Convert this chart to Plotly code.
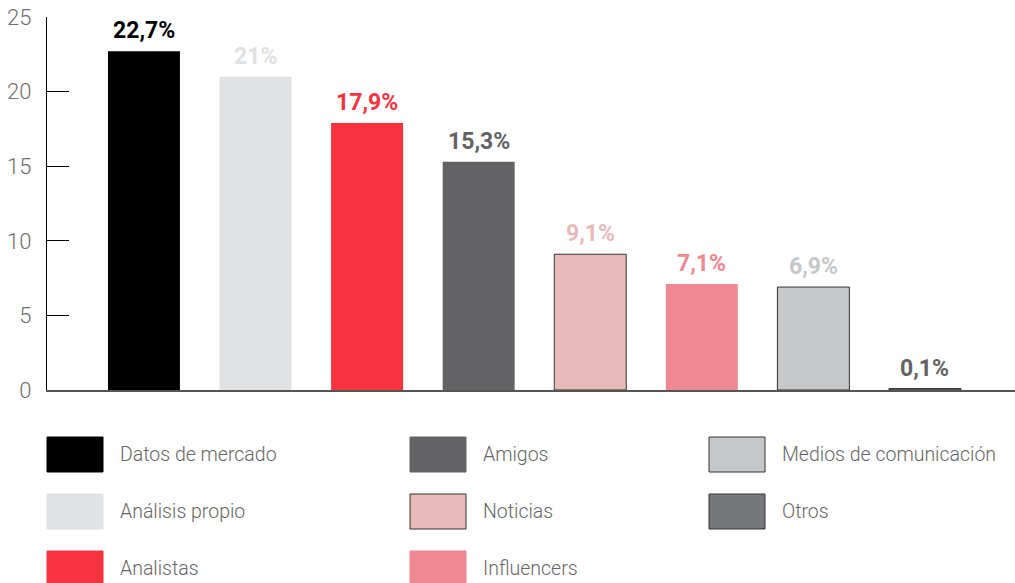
import plotly.graph_objects as go

categories = ["Datos de mercado", "Análisis propio", "Analistas", "Amigos",
              "Noticias", "Influencers", "Medios de comunicación", "Otros"]
values = [22.7, 21, 17.9, 15.3, 9.1, 7.1, 6.9, 0.1]
value_labels = ["22,7%", "21%", "17,9%", "15,3%", "9,1%", "7,1%", "6,9%", "0,1%"]
bar_colors = ["#000000", "#e0e1e3", "#f8323f", "#636365",
              "#e8baba", "#f08891", "#c6c7c9", "#77787b"]
label_colors = ["#000000", "#e0e1e3", "#f8323f", "#636365",
                "#e8baba", "#f08891", "#c6c7c9", "#636363"]
outlined = [False, False, False, False, True, False, True, True]
y_ticks = [0, 5, 10, 15, 20, 25]

W, H = 1015, 583
# plot area in pixels
L, R, T, B = 47, 1015, 17, 390

light_font = "Roboto, sans-serif"
bold_font = "Roboto, sans-serif"

fig = go.Figure()

fig.add_trace(go.Bar(
    x=categories,
    y=values,
    width=0.645,
    marker=dict(
        color=bar_colors,
        line=dict(color=["#333333" if o else "rgba(0,0,0,0)" for o in outlined], width=1),
    ),
    showlegend=False,
    hoverinfo="skip",
))

# value labels above bars
for cat, v, lab, col in zip(categories, values, value_labels, label_colors):
    fig.add_annotation(
        x=cat, y=v, text=f"<b>{lab}</b>", showarrow=False,
        yanchor="bottom", yshift=5,
        font=dict(family=bold_font, size=23, color=col),
    )


def px_x(p):
    return (p - L) / (R - L)


def px_y(p):
    return (B - p) / (B - T)


# manual legend, 3 columns filled top-to-bottom
col_x = [47, 410, 709]
row_y = [437, 494, 551]
sw_w, sw_h = 56, 35
for i, (name, col) in enumerate(zip(categories, bar_colors)):
    cx = col_x[i // 3]
    ry = row_y[i % 3]
    fig.add_shape(
        type="rect", xref="paper", yref="paper",
        x0=px_x(cx), x1=px_x(cx + sw_w), y0=px_y(ry), y1=px_y(ry + sw_h),
        fillcolor=col,
        line=dict(color="#333333" if outlined[i] else col, width=1),
    )
    fig.add_annotation(
        xref="paper", yref="paper",
        x=px_x(cx + sw_w + 15), y=px_y(ry + sw_h / 2),
        xanchor="left", yanchor="middle", showarrow=False,
        text=name, font=dict(family=light_font, size=19.5, color="#666666", weight=300),
    )

fig.update_xaxes(
    type="category",
    range=[-0.869, 7.807],
    showticklabels=False,
    ticks="",
    showgrid=False,
    zeroline=False,
    showline=True,
    linecolor="#555555",
    linewidth=1.5,
)
fig.update_yaxes(
    range=[0, 25],
    tickvals=y_ticks,
    ticks="inside",
    ticklen=22,
    tickcolor="#000000",
    tickwidth=1.2,
    showgrid=False,
    zeroline=False,
    showline=True,
    linecolor="#000000",
    linewidth=1.2,
    ticklabelstandoff=10,
    tickfont=dict(family=light_font, size=22, color="#6f6f6f", weight=300),
)

fig.update_layout(
    width=W, height=H,
    margin=dict(l=L, r=W - R, t=T, b=H - B),
    plot_bgcolor="white",
    paper_bgcolor="white",
    bargap=0.35,
)

fig.write_html("out.html", config={"displayModeBar": False},
               post_script="document.body.style.margin='0px';")
